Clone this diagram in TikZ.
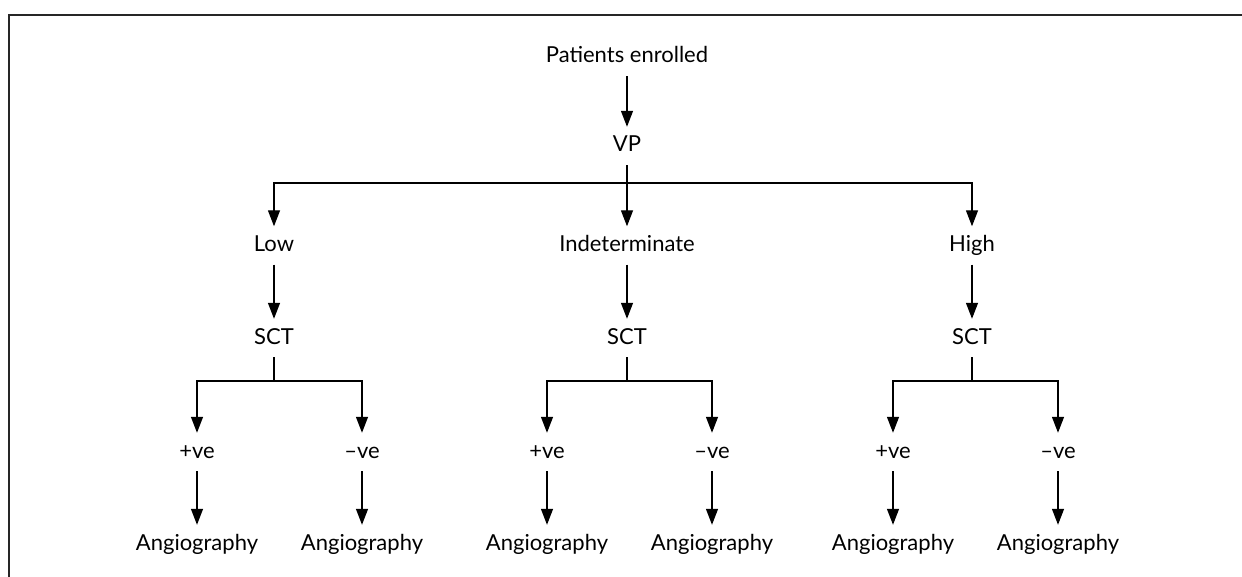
\documentclass[tikz,border=0pt]{standalone}
\usepackage{fontspec}
\setmainfont{Lato}
\usetikzlibrary{arrows.meta}
\begin{document}
\begin{tikzpicture}[x=1pt,y=-1pt,
  lbl/.style={anchor=base,inner xsep=2pt,inner ysep=9pt,text height=16pt,text depth=4pt,font=\fontsize{22}{26}\selectfont},
  arr/.style={line width=1.3pt,-{Triangle[length=16pt,width=12pt]}},
  ln/.style={line width=1.3pt},
  frame/.style={line width=1.6pt,black!85}]
\useasboundingbox (0,0) rectangle (1242,577);
\draw[frame] (9,577) -- (9,15) -- (1242,15);
% nodes
\node[lbl] (pe) at (627,63) {Patients enrolled};
\node[lbl] (vp) at (627,152) {VP};
\node[lbl] (low) at (274,251.5) {Low};
\node[lbl] (ind) at (627,251.5) {Indeterminate};
\node[lbl] (high) at (972,251.5) {High};
\node[lbl] (s1) at (274,344) {SCT};
\node[lbl] (s2) at (627,344) {SCT};
\node[lbl] (s3) at (972,344) {SCT};
\node[lbl] (p1) at (197,458) {+ve};
\node[lbl] (n1) at (362,458) {–ve};
\node[lbl] (p2) at (547,458) {+ve};
\node[lbl] (n2) at (712,458) {–ve};
\node[lbl] (p3) at (893,458) {+ve};
\node[lbl] (n3) at (1058,458) {–ve};
\node[lbl] (a1) at (197,550) {Angiography};
\node[lbl] (b1) at (362,550) {Angiography};
\node[lbl] (a2) at (547,550) {Angiography};
\node[lbl] (b2) at (712,550) {Angiography};
\node[lbl] (a3) at (893,550) {Angiography};
\node[lbl] (b3) at (1058,550) {Angiography};
% junction coordinates
\coordinate (j0) at (627,183);
\coordinate (j1) at (274,381);
\coordinate (j2) at (627,381);
\coordinate (j3) at (972,381);
% connectors
\draw[arr] (pe) -- (vp);
\draw[arr] (vp) -- (ind);
\draw[arr] (j0) -| (low);
\draw[arr] (j0) -| (high);
\draw[arr] (low) -- (s1);
\draw[arr] (ind) -- (s2);
\draw[arr] (high) -- (s3);
\draw[ln] (s1) -- (j1);
\draw[ln] (s2) -- (j2);
\draw[ln] (s3) -- (j3);
\draw[arr] (j1) -| (p1);
\draw[arr] (j1) -| (n1);
\draw[arr] (j2) -| (p2);
\draw[arr] (j2) -| (n2);
\draw[arr] (j3) -| (p3);
\draw[arr] (j3) -| (n3);
\draw[arr] (p1) -- (a1);
\draw[arr] (n1) -- (b1);
\draw[arr] (p2) -- (a2);
\draw[arr] (n2) -- (b2);
\draw[arr] (p3) -- (a3);
\draw[arr] (n3) -- (b3);
\end{tikzpicture}
\end{document}
